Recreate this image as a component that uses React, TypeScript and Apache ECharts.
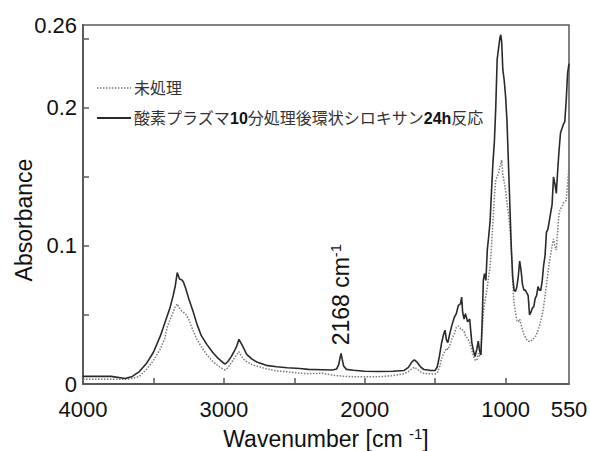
import React, { useEffect, useRef } from 'react';
import * as echarts from 'echarts';

// Wavenumber grid (cm^-1), descending
const wavenumbers = [
  4000, 3900, 3800, 3700, 3650, 3600, 3550, 3500, 3450, 3420, 3400, 3380, 3360, 3345, 3331, 3315, 3300, 3288,
  3270, 3250, 3220, 3190, 3160, 3120, 3080, 3040, 3000, 2990, 2970, 2950, 2930, 2910, 2893, 2875, 2855, 2838,
  2800, 2767, 2700, 2625, 2550, 2460, 2400, 2300, 2230, 2200, 2185, 2175, 2168, 2160, 2150, 2130, 2080, 2000,
  1900, 1800, 1720, 1690, 1665, 1648, 1630, 1600, 1580, 1540, 1500, 1485, 1470, 1455, 1440, 1430, 1420, 1410,
  1395, 1380, 1365, 1350, 1335, 1320, 1312, 1305, 1295, 1285, 1270, 1255, 1240, 1228, 1217, 1205, 1194, 1185,
  1175, 1165, 1158, 1150, 1140, 1130, 1120, 1110, 1100, 1090, 1080, 1070, 1060, 1050, 1040, 1034, 1028, 1020,
  1010, 1000, 990, 980, 970, 960, 950, 940, 930, 920, 910, 900, 890, 880, 870, 860, 850, 840, 830, 820, 810,
  800, 790, 780, 770, 760, 750, 740, 730, 720, 710, 700, 690, 680, 670, 660, 650, 640, 630, 620, 610, 600, 590,
  580, 570, 560, 550,
];

// 未処理 (dotted)
const untreated = [
  0.0035, 0.0035, 0.0035, 0.0035, 0.004, 0.0055, 0.0105, 0.017, 0.0255, 0.033, 0.042, 0.047, 0.052, 0.056, 0.058, 0.055, 0.053, 0.052,
  0.0505, 0.047, 0.039, 0.032, 0.027, 0.021, 0.0165, 0.013, 0.0105, 0.0102, 0.012, 0.015, 0.018, 0.021, 0.0234, 0.02, 0.0175, 0.0162,
  0.014, 0.013, 0.011, 0.0095, 0.0088, 0.0078, 0.0075, 0.0078, 0.0065, 0.006, 0.006, 0.006, 0.0058, 0.0057, 0.0056, 0.0055, 0.0053, 0.0052,
  0.0053, 0.006, 0.0075, 0.009, 0.011, 0.0121, 0.011, 0.0085, 0.0077, 0.0074, 0.0072, 0.008, 0.012, 0.018, 0.0222, 0.024, 0.026, 0.025,
  0.0283, 0.033, 0.036, 0.041, 0.042, 0.04, 0.04, 0.039, 0.038, 0.035, 0.033, 0.03, 0.0246, 0.02, 0.0174, 0.017, 0.0222, 0.02,
  0.025, 0.04, 0.0512, 0.058, 0.064, 0.07, 0.078, 0.085, 0.1, 0.118, 0.135, 0.148, 0.15, 0.153, 0.1575, 0.16, 0.1623, 0.152,
  0.146, 0.14, 0.131, 0.124, 0.114, 0.098, 0.075, 0.058, 0.052, 0.046, 0.045, 0.047, 0.043, 0.039, 0.036, 0.034, 0.032, 0.031, 0.031, 0.031, 0.0325,
  0.033, 0.034, 0.036, 0.039, 0.042, 0.046, 0.05, 0.056, 0.064, 0.072, 0.08, 0.088, 0.094, 0.1, 0.105, 0.1, 0.097, 0.112, 0.124, 0.127, 0.128, 0.131,
  0.132, 0.133, 0.145, 0.158,
];

// 酸素プラズマ10分処理後環状シロキサン24h反応 (solid)
const treated = [
  0.0055, 0.0055, 0.0055, 0.004, 0.0055, 0.009, 0.0148, 0.023, 0.035, 0.044, 0.05, 0.056, 0.064, 0.071, 0.0807, 0.076, 0.0755, 0.074,
  0.069, 0.062, 0.053, 0.043, 0.035, 0.0285, 0.023, 0.0185, 0.015, 0.0145, 0.0165, 0.0195, 0.023, 0.027, 0.0324, 0.029, 0.025, 0.0215,
  0.018, 0.016, 0.0135, 0.0125, 0.0118, 0.0112, 0.0106, 0.0103, 0.0101, 0.0108, 0.014, 0.019, 0.0222, 0.018, 0.013, 0.0106, 0.01, 0.0092,
  0.009, 0.0092, 0.0098, 0.012, 0.016, 0.0174, 0.016, 0.012, 0.0105, 0.0099, 0.0098, 0.0125, 0.02, 0.0295, 0.036, 0.039, 0.032, 0.03,
  0.037, 0.043, 0.048, 0.051, 0.057, 0.058, 0.063, 0.052, 0.047, 0.051, 0.045, 0.047, 0.03, 0.024, 0.0198, 0.025, 0.031, 0.024,
  0.021, 0.05, 0.075, 0.08, 0.075, 0.097, 0.107, 0.118, 0.14, 0.16, 0.175, 0.2, 0.235, 0.243, 0.251, 0.2529, 0.248, 0.228,
  0.22, 0.208, 0.19, 0.16, 0.13, 0.1, 0.078, 0.068, 0.067, 0.0705, 0.078, 0.089, 0.082, 0.072, 0.068, 0.068, 0.066, 0.064, 0.05, 0.052, 0.055,
  0.056, 0.062, 0.064, 0.0705, 0.068, 0.068, 0.075, 0.086, 0.093, 0.11, 0.112, 0.118, 0.124, 0.13, 0.15, 0.145, 0.138, 0.155, 0.17, 0.182, 0.185, 0.188,
  0.19, 0.205, 0.225, 0.232,
];

const seriesNames = ['未処理', '酸素プラズマ10分処理後環状シロキサン24h反応'];
const legendLabels = ['未処理', '酸素プラズマ{b|10}分処理後環状シロキサン{b|24h}反応'];
const xLabelValues = [4000, 3000, 2000, 1000, 550];
const xTickValues = [3500, 3000, 2500, 2000, 1500, 1000];
const yLabelValues = [0, 0.1, 0.2, 0.26];
const yTickValues = [0.05, 0.1, 0.15, 0.2, 0.25];
const peakWavenumber = 2168;

const FONT = 'Arial, "Liberation Sans", "Noto Sans CJK JP", sans-serif';
const AXIS_COLOR = '#5a5a5a';
const DOT_STYLE = { color: '#7a7a7a', width: 1.5, dash: [1.5, 1.5] as number[] };
const SOLID_STYLE = { color: '#2a2a2a', width: 1.6 };

export default function App() {
  const ref = useRef<HTMLDivElement>(null);

  useEffect(() => {
    if (!ref.current) return;
    const chart = echarts.init(ref.current, undefined, { renderer: 'svg' });
    const toPairs = (vals: number[]) => wavenumbers.map((w, i) => [w, vals[i]]);

    chart.setOption({
      animation: false,
      backgroundColor: '#ffffff',
      textStyle: { fontFamily: FONT },
      grid: {
        left: 83,
        right: 21,
        top: 25,
        bottom: 67,
        show: true,
        borderColor: AXIS_COLOR,
        borderWidth: 1.5,
        outerBoundsMode: 'none',
      },
      xAxis: {
        type: 'value',
        inverse: true,
        min: 550,
        max: 4000,
        name: 'Wavenumber [cm {sup|-1}]',
        nameLocation: 'middle',
        nameGap: 42,
        nameTextStyle: {
          fontFamily: FONT,
          fontSize: 23,
          color: '#111',
          lineHeight: 26,
          rich: {
            sup: { fontFamily: FONT, fontSize: 15, color: '#111', verticalAlign: 'top', lineHeight: 16 },
          },
        },
        axisLine: { show: true, lineStyle: { color: AXIS_COLOR, width: 2 } },
        axisTick: { show: true, inside: true, length: 6, customValues: xTickValues, lineStyle: { color: AXIS_COLOR, width: 1.5 } },
        axisLabel: {
          customValues: xLabelValues,
          margin: 14,
          fontFamily: FONT,
          fontSize: 22,
          color: '#111',
          formatter: (v: number) => String(v),
        },
        splitLine: { show: false },
      },
      yAxis: {
        type: 'value',
        min: 0,
        max: 0.26,
        axisLine: { show: true, lineStyle: { color: AXIS_COLOR, width: 2 } },
        axisTick: { show: true, inside: true, length: 6, customValues: yTickValues, lineStyle: { color: AXIS_COLOR, width: 1.5 } },
        axisLabel: {
          customValues: yLabelValues,
          margin: 6,
          fontFamily: FONT,
          fontSize: 22,
          color: '#111',
          formatter: (v: number) => (v === 0 ? '0' : String(Math.round(v * 100) / 100)),
        },
        splitLine: { show: false },
      },
      series: [
        {
          name: seriesNames[0],
          type: 'line',
          data: toPairs(untreated),
          showSymbol: false,
          symbol: 'none',
          z: 2,
          lineStyle: { color: DOT_STYLE.color, width: DOT_STYLE.width, type: DOT_STYLE.dash },
        },
        {
          name: seriesNames[1],
          type: 'line',
          data: toPairs(treated),
          showSymbol: false,
          symbol: 'none',
          z: 3,
          lineStyle: { color: SOLID_STYLE.color, width: SOLID_STYLE.width },
        },
      ],
    });

    const peakValue = treated[wavenumbers.indexOf(peakWavenumber)];
    const p = chart.convertToPixel({ xAxisIndex: 0, yAxisIndex: 0 }, [peakWavenumber, peakValue]) as number[];

    const legendX = 97;
    const legendY = [88, 118];
    const legendStyles = [
      { stroke: DOT_STYLE.color, lineWidth: DOT_STYLE.width, lineDash: DOT_STYLE.dash },
      { stroke: SOLID_STYLE.color, lineWidth: SOLID_STYLE.width + 0.4 },
    ];
    const legendGraphics: any[] = [];
    seriesNames.forEach((_, i) => {
      legendGraphics.push({
        type: 'line',
        shape: { x1: legendX, y1: legendY[i], x2: legendX + 34, y2: legendY[i] },
        style: legendStyles[i],
      });
      legendGraphics.push({
        type: 'text',
        x: legendX + 37,
        y: legendY[i],
        style: {
          text: legendLabels[i],
          fontFamily: FONT,
          fontSize: 16,
          fill: '#333',
          align: 'left',
          verticalAlign: 'middle',
          rich: {
            b: { fontFamily: FONT, fontSize: 16, fontWeight: 'bold', fill: '#111' },
          },
        },
      });
    });

    chart.setOption({
      graphic: [
        ...legendGraphics,
        {
          type: 'text',
          x: p[0],
          y: p[1] - 8,
          rotation: Math.PI / 2,
          style: {
            text: `${peakWavenumber} cm{sup|-1}`,
            fontFamily: FONT,
            fontSize: 23,
            fill: '#111',
            align: 'left',
            verticalAlign: 'middle',
            lineHeight: 26,
            rich: {
              sup: { fontFamily: FONT, fontSize: 15, fill: '#111', verticalAlign: 'top', lineHeight: 16 },
            },
          },
        },
        {
          type: 'text',
          x: 24,
          y: 220,
          rotation: Math.PI / 2,
          style: {
            text: 'Absorbance',
            fontFamily: FONT,
            fontSize: 23,
            fill: '#111',
            align: 'center',
            verticalAlign: 'middle',
          },
        },
      ],
    });

    return () => chart.dispose();
  }, []);

  return (
    <div
      ref={ref}
      style={{ position: 'fixed', left: 0, top: 0, width: 590, height: 451, background: '#fff' }}
    />
  );
}
